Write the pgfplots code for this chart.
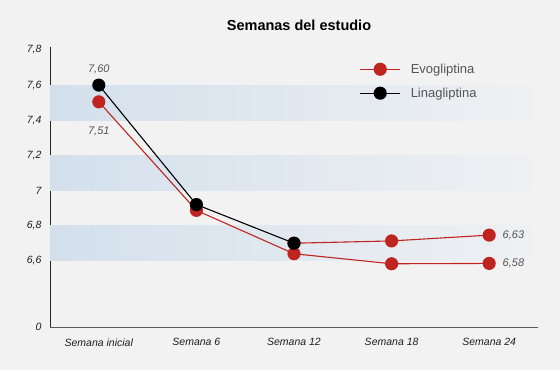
\documentclass[border=0pt]{standalone}
\usepackage{fontspec}
\setmainfont{Liberation Sans}
\usepackage{pgfplots}
\pgfplotsset{compat=1.18}
\definecolor{bg}{HTML}{F2F2F2}
\definecolor{bandL}{HTML}{D3E0EC}
\definecolor{bandR}{HTML}{EFF1F3}
\definecolor{evo}{HTML}{BF2420}
\definecolor{txtgray}{HTML}{555555}
\begin{document}
\begin{tikzpicture}[x=1pt,y=1pt]
\fill[bg] (-50,-43) rectangle (510,327);
\begin{axis}[at={(0,0)}, anchor=south west, scale only axis,
  width=488pt, height=280pt,
  xmin=-0.5, xmax=4.5, ymin=6.223, ymax=7.817,
  axis x line*=bottom, axis y line*=left,
  x axis line style={draw=black!65, line width=0.8pt},
  y axis line style={draw=black!85, line width=0.8pt},
  xtick={0,1,2,3,4},
  xticklabels={Semana inicial, Semana 6, Semana 12, Semana 18, Semana 24},
  ytick={6.223,6.6,6.8,7,7.2,7.4,7.6,7.8},
  yticklabels={0,{6,6},{6,8},7,{7,2},{7,4},{7,6},{7,8}},
  major tick length=0pt,
  tick label style={font=\itshape\fontsize{10.5}{12}\selectfont, text=black!88},
  xticklabel style={yshift=-8pt},
  yticklabel style={xshift=-5pt},
  clip=false,
  legend style={at={(0.628,0.955)}, anchor=north west, draw=none, fill=none,
    font=\fontsize{13}{15}\selectfont, text=txtgray, row sep=9pt, cells={anchor=west}},
  legend image code/.code={\draw[mark repeat=2,mark phase=2,#1] plot coordinates {(0pt,0pt) (20pt,0pt) (40pt,0pt)};},
]
\shade[left color=bandL, right color=bandR] (axis cs:-0.5,6.6) rectangle (axis cs:4.5,6.8);
\shade[left color=bandL, right color=bandR] (axis cs:-0.5,7.0) rectangle (axis cs:4.5,7.2);
\shade[left color=bandL, right color=bandR] (axis cs:-0.5,7.4) rectangle (axis cs:4.5,7.6);
\addplot[evo, line width=1.1pt, mark=*, mark size=6pt, mark options={fill=evo, draw=evo}]
  coordinates {(0,7.505) (1,6.887) (2,6.64) (3,6.583) (4,6.585)};
\addlegendentry{\hspace{8pt}Evogliptina}
\addplot[evo, line width=1.1pt, mark=*, mark size=6pt, mark options={fill=evo, draw=evo}, forget plot]
  coordinates {(2,6.70) (3,6.713) (4,6.746)};
\addplot[black, line width=1.1pt, mark=*, mark size=6pt, mark options={fill=black, draw=black}]
  coordinates {(0,7.60) (1,6.92) (2,6.70)};
\addlegendentry{\hspace{8pt}Linagliptina}
\node[font=\itshape\fontsize{11}{13}\selectfont, text=txtgray] at (axis cs:0,7.60) [yshift=16pt] {7,60};
\node[font=\itshape\fontsize{11}{13}\selectfont, text=txtgray] at (axis cs:0,7.505) [yshift=-30pt] {7,51};
\node[font=\itshape\fontsize{11}{13}\selectfont, text=txtgray, anchor=west] at (axis cs:4,6.746) [xshift=10pt] {6,63};
\node[font=\itshape\fontsize{11}{13}\selectfont, text=txtgray, anchor=west] at (axis cs:4,6.585) [xshift=10pt] {6,58};
\end{axis}
\node[font=\bfseries\fontsize{14.5}{17}\selectfont] at (249,302) {Semanas del estudio};
\pgfresetboundingbox
\useasboundingbox (-50,-43) rectangle (510,327);
\end{tikzpicture}
\end{document}
